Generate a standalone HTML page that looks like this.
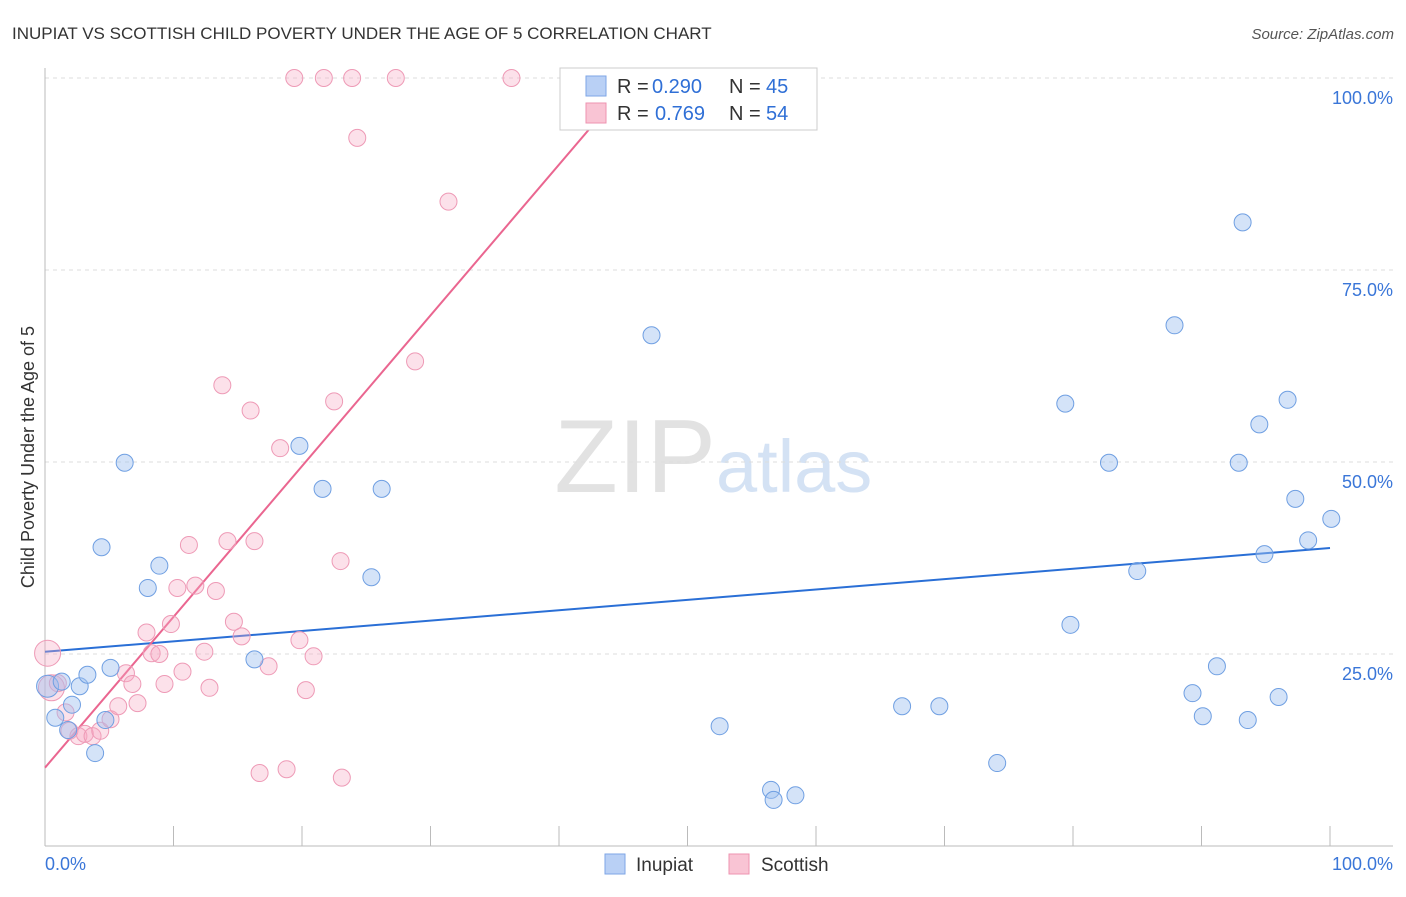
<!DOCTYPE html>
<html><head><meta charset="utf-8"><style>
body{margin:0;background:#fff;font-family:"Liberation Sans",sans-serif;}
svg text{font-family:"Liberation Sans",sans-serif;}
</style></head><body>
<svg id="c" width="1406" height="892" xmlns="http://www.w3.org/2000/svg">
<text x="12" y="39" font-size="17" fill="#333">INUPIAT VS SCOTTISH CHILD POVERTY UNDER THE AGE OF 5 CORRELATION CHART</text>
<text x="1394" y="39" font-size="15" fill="#555" text-anchor="end" font-style="italic">Source: ZipAtlas.com</text>
<text x="716" y="492" font-size="104" fill="#e2e2e2" text-anchor="end" font-family="Liberation Serif">ZIP</text>
<text x="716" y="492" font-size="74" fill="#d4e2f4">atlas</text>
<g id="grid"></g><g id="axes"></g><g id="trend"></g><g id="pts"></g>
<g>
<rect x="560" y="68" width="257" height="62" fill="#fff" stroke="#ccc"/>
<rect x="586" y="76" width="20" height="20" fill="#b9d0f5" stroke="#7ea6e6"/>
<rect x="586" y="103" width="20" height="20" fill="#f9c4d4" stroke="#ee93b0"/>
<text x="617" y="93" font-size="20" fill="#333">R =</text><text x="652" y="93" font-size="20" fill="#2f6fd6">0.290</text>
<text x="729" y="93" font-size="20" fill="#333">N =</text><text x="766" y="93" font-size="20" fill="#2f6fd6">45</text>
<text x="617" y="120" font-size="20" fill="#333">R =</text><text x="655" y="120" font-size="20" fill="#2f6fd6">0.769</text>
<text x="729" y="120" font-size="20" fill="#333">N =</text><text x="766" y="120" font-size="20" fill="#2f6fd6">54</text>
</g>
<g>
<rect x="605" y="854" width="20" height="20" fill="#b9d0f5" stroke="#7ea6e6"/>
<text x="636" y="871" font-size="19" fill="#333">Inupiat</text>
<rect x="729" y="854" width="20" height="20" fill="#f9c4d4" stroke="#ee93b0"/>
<text x="761" y="871" font-size="19" fill="#333">Scottish</text>
</g>
</svg>
<script>
const yTicks=[25,50,75,100];
const yTickLabels=["25.0%","50.0%","75.0%","100.0%"];
const xTicks=[0,10,20,30,40,50,60,70,80,90,100];
const inupiatX=[0.2,0.8,1.3,1.8,2.1,2.7,3.3,3.9,4.4,4.7,5.1,6.2,8.0,8.9,16.3,19.8,21.6,25.4,26.2,47.2,52.5,56.5,56.7,58.4,66.7,69.6,74.1,79.4,79.8,82.8,85.0,87.9,89.3,90.1,91.2,92.9,93.2,93.6,94.5,94.9,96.0,96.7,97.3,98.3,100.1,57.1];
const inupiatY=[20.8,16.7,21.4,15.1,18.4,20.8,22.3,12.1,38.9,16.4,23.2,49.9,33.6,36.5,24.3,52.1,46.5,35.0,46.5,66.5,15.6,7.3,6.0,6.6,18.2,18.2,10.8,57.6,28.8,49.9,35.8,67.8,19.9,16.9,23.4,49.9,81.2,16.4,54.9,38.0,19.4,58.1,45.2,39.8,42.6,100];
const scottishX=[0.2,0.5,1.0,1.6,1.9,2.6,3.1,3.7,4.3,5.1,5.7,6.3,6.8,7.2,7.9,8.3,8.9,9.3,9.8,10.3,10.7,11.2,11.7,12.4,12.8,13.3,13.8,14.2,14.7,15.3,16.0,16.3,16.7,17.4,18.3,18.8,19.8,20.3,20.9,22.5,23.0,23.1,24.3,28.8,31.4,19.4,21.7,23.9,27.3,36.3,47.9,50.1];
const scottishY=[25.1,20.6,21.2,17.4,15.0,14.3,14.6,14.3,15.0,16.5,18.2,22.5,21.1,18.6,27.8,25.1,25.0,21.1,28.9,33.6,22.7,39.2,33.9,25.3,20.6,33.2,60.0,39.7,29.2,27.3,56.7,39.7,9.5,23.4,51.8,10.0,26.8,20.3,24.7,57.9,37.1,8.9,92.2,63.1,83.9,100,100,100,100,100,100,100];
const inupiatTrend=[25.3,38.8];
const scottishTrend=[10.2,1.963];
const NS="http://www.w3.org/2000/svg";
const X=v=>45+v*12.85, Y=v=>846-v*7.68;
function mk(t,a,p){const e=document.createElementNS(NS,t);for(const k in a)e.setAttribute(k,a[k]);p.appendChild(e);return e;}
const grid=document.getElementById('grid'),axes=document.getElementById('axes');
yTicks.forEach((t,i)=>{
 const l=mk('line',{x1:45,x2:1393,y1:Y(t),y2:Y(t),stroke:'#ddd','stroke-dasharray':'4,4'},grid);
 
 
 const tx=mk('text',{x:1393,y:Y(t)+26,'font-size':18,fill:'#3a76d8','text-anchor':'end'},axes);
 tx.textContent=yTickLabels[i];
 
 
});
const ya=mk('line',{x1:45,x2:45,y1:68,y2:846,stroke:'#bbb'},axes);


const xa=mk('line',{x1:45,x2:1393,y1:846,y2:846,stroke:'#bbb'},axes);


xTicks.forEach(t=>{const l=mk('line',{x1:X(t),x2:X(t),y1:826,y2:846,stroke:'#bbb'},axes);
 
 });
const t0=mk('text',{x:45,y:870,'font-size':18,fill:'#3a76d8'},axes);t0.textContent='0.0%';


const t1=mk('text',{x:1393,y:870,'font-size':18,fill:'#3a76d8','text-anchor':'end'},axes);t1.textContent='100.0%';


const yt=mk('text',{x:34,y:457,'font-size':18,fill:'#333','text-anchor':'middle',transform:'rotate(-90 34 457)'},axes);
yt.textContent='Child Poverty Under the Age of 5';


const pts=document.getElementById('pts');
scottishX.forEach((x,i)=>{const r=i<2?13:8.5;const c=mk('circle',{cx:X(x),cy:Y(scottishY[i]),r:r,fill:'rgba(247,170,196,0.35)',stroke:'#ee9ab6','stroke-width':1},pts);
 
 });
inupiatX.forEach((x,i)=>{const c=mk('circle',{cx:X(x),cy:Y(inupiatY[i]),r:i==0?11:8.5,fill:'rgba(160,193,240,0.45)',stroke:'#6f9fe2','stroke-width':1},pts);
 
 });
const tr=document.getElementById('trend');
const bl=mk('line',{x1:X(0),y1:Y(inupiatTrend[0]),x2:X(100),y2:Y(inupiatTrend[1]),stroke:'#2a6fd6','stroke-width':2},tr);


const xe=(100-scottishTrend[0])/scottishTrend[1];
const pl=mk('line',{x1:X(0),y1:Y(scottishTrend[0]),x2:X(xe),y2:Y(100),stroke:'#ea6690','stroke-width':2},tr);


</script>
</body></html>
